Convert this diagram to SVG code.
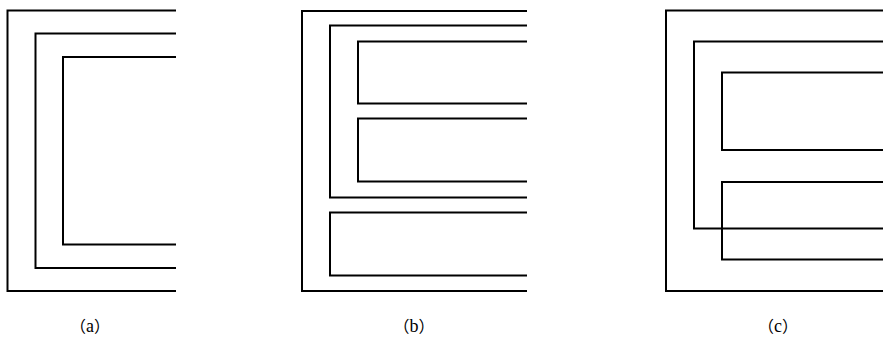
<svg xmlns="http://www.w3.org/2000/svg" width="883" height="338" viewBox="0 0 883 338">
  <style>
    .ln { fill: none; stroke: #000; stroke-width: 2; stroke-linejoin: miter; }
    .cap { font-family: "Noto Sans CJK SC", "Noto Sans CJK JP", sans-serif; font-size: 16px; fill: #000; text-anchor: middle; }
    .ltr { font-family: "Liberation Serif", "DejaVu Serif", serif; font-size: 18px; }
  </style>
  <rect width="883" height="338" fill="#fff"/>

  <!-- (a) three nested open brackets -->
  <g id="fig-a">
    <path class="ln" d="M176,10.5 H7.5 V291 H176"/>
    <path class="ln" d="M176,33.5 H35.5 V268 H176"/>
    <path class="ln" d="M176,57 H63 V244.5 H176"/>
    <text class="cap" x="90" y="332">（<tspan class="ltr">a</tspan>）</text>
  </g>

  <!-- (b) E-shaped arrangement -->
  <g id="fig-b">
    <path class="ln" d="M527,11 H302 V291 H527"/>
    <path class="ln" d="M527,25.5 H330 V197.5 H527"/>
    <path class="ln" d="M527,41.5 H358 V103.5 H527"/>
    <path class="ln" d="M527,118.5 H358 V181.5 H527"/>
    <path class="ln" d="M527,212.5 H330 V275.5 H527"/>
    <text class="cap" x="414" y="332">（<tspan class="ltr">b</tspan>）</text>
  </g>

  <!-- (c) overlapping brackets -->
  <g id="fig-c">
    <path class="ln" d="M883,10.5 H666 V291 H883"/>
    <path class="ln" d="M883,41.5 H694 V228.5 H883"/>
    <path class="ln" d="M883,72.5 H722 V150 H883"/>
    <path class="ln" d="M883,182 H722 V259.5 H883"/>
    <text class="cap" x="778" y="332">（<tspan class="ltr">c</tspan>）</text>
  </g>
</svg>
